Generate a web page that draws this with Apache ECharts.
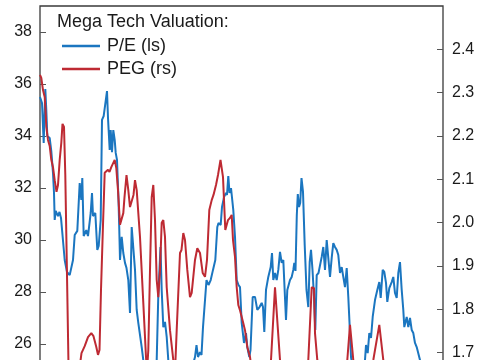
<!DOCTYPE html>
<html>
<head>
<meta charset="utf-8">
<script src="https://cdn.jsdelivr.net/npm/echarts@6/dist/echarts.min.js"></script>
<style>
html,body{margin:0;padding:0;background:#fff;}
#chart{width:485px;height:360px;}
</style>
</head>
<body>
<div id="chart"></div>
<script>
// Time index (weeks from start) and values
const peWeek = [0,2,3.7,5.3,6.3,7.3,9.7,11.3,13,14,14.7,15.7,18,19.5,21,24.7,27,29.7,33,34.7,37.3,39.7,41.3,42.3,43.7,46.3,48,50.7,52,53,55.3,57.3,58.7,60.7,62,63.7,65.5,67,68,69.7,70.7,72,73.3,74.7,75.7,77,78.5,79.3,80,81.7,83.3,85,86.5,88.3,90,91.7,93.3,95,96.7,98.3,101.7,103.3,107,112,116.7,118.3,120.5,121.7,123.3,125,126.7,128.3,135,145,152,155,156.5,158,160,161.5,163,166.5,168.5,170.7,173,175.3,177.3,178.5,180.7,182,184,186,187,188.3,189.5,191,193.3,195,196.7,198.5,200,201.7,204,206,207.3,209.3,210.5,212.7,215,217.3,219.5,221.7,223,224.3,226,228.3,230.7,232,233.3,235,236.7,238.3,240,241.7,243.3,245,246,247.3,250,251.7,253.3,254.3,255.5,256.8,257.8,259,260.2,261.5,263,264.7,266.5,268.3,269.7,271,272.5,274,275.3,276.7,278.5,280,281.7,283.3,285,286.7,288.3,290,291.7,293.3,295,296.7,298.3,300,301.7,303.3,305,306.7,308.3,310,311,313,318,323,325,326,327.7,329.3,331,332.7,335,337.3,339.3,340.7,342.7,344.3,346,347.3,349.3,351.7,353.3,355,356.7,358.3,360,361.7,363.3,364.3,366.7,368.3,370,371.7,373.3,375,376.7,378.3,380,382];
const peValue = [35.5,35.27,33.73,35.81,35.0,34.0,33.92,33.42,32.58,31.81,30.77,31.12,30.92,31.08,30.85,29.23,28.77,28.65,29.23,30.19,30.35,32.19,31.54,32.38,30.15,30.38,30.15,31.04,31.81,30.92,31.04,29.62,29.77,30.77,34.62,34.77,34.73,35.73,34.69,33.46,34.23,33.38,34.23,33.85,33.35,33.08,31.54,30.38,29.23,30.12,29.5,29.12,28.92,28.46,27.19,30.5,30.46,28.85,27.31,26.81,25.88,25.38,24.81,24.92,25.38,27.88,29.73,28.08,26.65,26.85,26.27,25.38,24.69,24.92,25.08,25.5,25.96,25.5,25.69,25.58,26.65,28.46,28.27,28.46,28.85,29.23,30.5,30.65,30.58,31.27,31.65,31.81,31.73,32.46,31.81,32.0,31.15,30.12,28.46,28.27,28.19,26.81,26.04,26.42,25.88,25.5,25.77,27.81,27.81,27.31,27.42,27.58,27.42,26.46,28.08,28.58,28.96,29.5,28.46,28.73,28.46,28.85,29.54,29.12,29.23,29.23,26.92,28.08,28.46,28.58,28.85,29.12,28.81,30.96,31.77,31.27,31.42,32.38,31.85,29.81,28.08,27.42,29.15,29.62,28.85,27.81,26.54,28.65,28.73,28.77,29.35,29.73,28.85,30.0,29.31,28.58,29.31,29.88,29.73,29.62,29.42,28.73,28.96,28.58,28.19,28.92,27.81,26.42,25.5,25.0,24.69,25.08,25.38,25.96,25.65,26.42,26.23,27.04,27.69,28.08,28.38,27.77,28.85,28.77,28.35,27.62,28.15,28.38,28.58,27.96,27.77,28.73,29.15,28.08,27.31,26.65,27.04,26.65,27.0,26.54,26.42,26.04,25.88,25.88,25.38,25.0];

const pegWeek = [0,1.3,3,4.7,5.5,6.3,8,9.7,11.3,13,14.7,16.5,18,19.7,21.3,22.5,24,25.3,27.3,28.5,32,38,41.5,44.7,48,51.3,53.5,56.3,58,59.5,61,63,64.7,66.5,68,69.5,71.3,73,74.7,76.3,78,80,81.5,83.3,84.5,86.5,88.3,90,91.7,93.5,95,96.7,100,103.3,106,107,108.3,110,111.7,113.3,115,116.7,118.3,120,121.7,123.3,125,126.7,130,133.3,135,136.7,140,141.5,143.3,145,147.3,150,151.7,155,157.3,160,162.7,165,167,169.3,171.7,173.5,176,178,180.5,183,185.3,188,190,191.7,193,195,196.7,198.3,200,202,203.3,205,207.3,210,212,218,225,231,235,240,243,250,260,266,268.3,271.7,274,275,277.3,280,290,300,305,307.3,310,313.3,316,325,331,333.3,339.3,343.3,346,355,370,382];
const pegValue = [2.341,2.334,2.306,2.290,2.260,2.221,2.191,2.177,2.145,2.128,2.098,2.071,2.087,2.145,2.184,2.228,2.221,2.110,1.838,1.671,1.625,1.637,1.699,1.715,1.736,1.745,1.738,1.713,1.695,1.706,1.845,1.995,2.115,2.117,2.122,2.117,2.128,2.131,2.145,2.126,2.075,1.995,1.997,2.022,2.059,2.110,2.075,2.036,2.038,2.064,2.098,2.075,1.967,1.815,1.690,1.655,1.706,1.891,2.059,2.087,2.006,1.868,1.828,1.891,2.0,2.006,1.967,1.851,1.752,1.683,1.655,1.752,1.930,1.937,1.976,1.960,1.891,1.828,1.838,1.914,1.941,1.930,1.884,1.875,1.914,2.029,2.052,2.064,2.087,2.110,2.145,2.105,1.983,2.006,2.011,2.018,1.960,1.921,1.851,1.810,1.798,1.794,1.768,1.752,1.713,1.690,1.655,1.625,1.637,1.683,1.851,1.683,1.648,1.625,1.637,1.655,1.683,1.851,1.849,1.745,1.683,1.648,1.625,1.641,1.655,1.683,1.764,1.683,1.641,1.625,1.655,1.683,1.764,1.683,1.641,1.618,1.614,1.609];

// Axis settings
const leftMin = 24, leftMax = 39, leftStep = 2;
const rightMin = 1.6, rightMax = 2.5, rightStep = 0.1;
const weekMax = 403;

const titleText = 'Mega Tech Valuation:';
const seriesNames = ['P/E (ls)', 'PEG (rs)'];

const zip = (xs, ys) => xs.map((x, i) => [x, ys[i]]);

const chart = echarts.init(document.getElementById('chart'), null, {renderer: 'canvas'});
const FONT = 'Liberation Sans, Arial, sans-serif';
chart.setOption({
  animation: false,
  backgroundColor: '#ffffff',
  title: {
    text: titleText,
    left: 57, top: 13, padding: 0,
    textStyle: {fontFamily: FONT, fontSize: 18, fontWeight: 'normal', color: '#1a1a1a'}
  },
  legend: {
    orient: 'vertical',
    left: 62, top: 36, padding: 0,
    itemWidth: 38, itemHeight: 2.5, itemGap: 3,
    icon: 'rect',
    textStyle: {fontFamily: FONT, fontSize: 18, color: '#1a1a1a', lineHeight: 20, padding: [0, 0, 0, 2]},
    data: seriesNames
  },
  grid: {
    left: 40, right: 42, top: 6, bottom: -36,
    show: true, borderColor: '#3a3a3a', borderWidth: 1.3,
    outerBoundsMode: 'none', containLabel: false
  },
  xAxis: {
    type: 'value', min: 0, max: weekMax, show: false
  },
  yAxis: [
    {
      type: 'value', min: leftMin, max: leftMax, interval: leftStep, position: 'left',
      axisLine: {show: false},
      axisTick: {show: true, inside: true, length: 6, lineStyle: {color: '#555', width: 1}},
      splitLine: {show: false},
      axisLabel: {showMaxLabel: false, margin: 8, fontFamily: FONT, fontSize: 16, color: '#1a1a1a'}
    },
    {
      type: 'value', min: rightMin, max: rightMax, interval: rightStep, position: 'right',
      axisLine: {show: false},
      axisTick: {show: true, inside: true, length: 6, lineStyle: {color: '#555', width: 1}},
      splitLine: {show: false},
      axisLabel: {showMaxLabel: false, margin: 9, fontFamily: FONT, fontSize: 16, color: '#1a1a1a',
        formatter: v => v.toFixed(1)}
    }
  ],
  series: [
    {
      name: seriesNames[0], type: 'line', yAxisIndex: 0, showSymbol: false, symbol: 'none',
      data: zip(peWeek, peValue),
      lineStyle: {color: '#1b76c0', width: 2}, itemStyle: {color: '#1b76c0'}
    },
    {
      name: seriesNames[1], type: 'line', yAxisIndex: 1, showSymbol: false, symbol: 'none',
      data: zip(pegWeek, pegValue),
      lineStyle: {color: '#be2a33', width: 2}, itemStyle: {color: '#be2a33'}
    }
  ]
});
</script>
</body>
</html>
